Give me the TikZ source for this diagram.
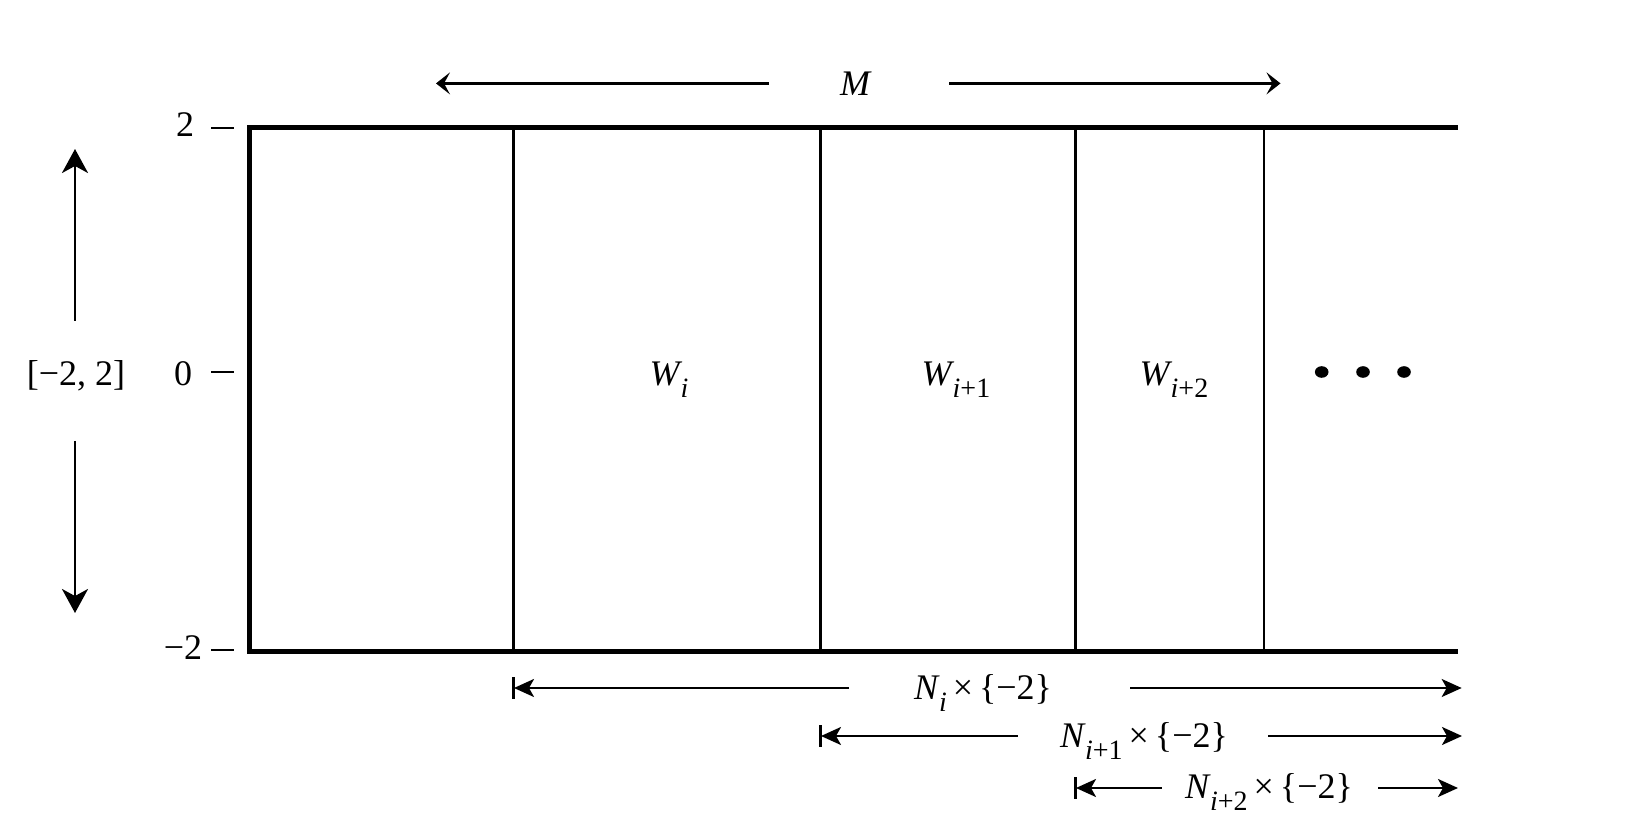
\documentclass[tikz,border=0pt]{standalone}
\usepackage{fontspec}
\setmainfont{Liberation Serif}
\usetikzlibrary{arrows.meta}
\newcommand{\sbs}[1]{\raisebox{-6pt}{\fontsize{14}{14}\selectfont #1}}
\newcommand{\Wl}[1]{{\itshape W}\kern0.5pt\sbs{#1}}
\newcommand{\Nl}[1]{{\itshape N}\kern0.5pt\sbs{#1}\kern3pt×\kern3pt\{−2\}}
\begin{document}
\begin{tikzpicture}[x=0.5pt,y=-0.5pt,font=\fontsize{18}{20}\selectfont,
  frame/.style={line width=2.5pt,line join=miter},
  divider/.style={line width=1.2pt},
  tickmark/.style={line width=1.1pt},
  lbl/.style={inner sep=0pt,anchor=base},
  dimarrow/.style={line width=1.2pt,-{Stealth[length=10pt,width=9pt,inset=2.5pt]}},
  bigarrow/.style={line width=1.2pt,-{Stealth[length=12pt,width=13pt,inset=3.5pt]}},
  marrow/.style={line width=1.2pt,-{Stealth[length=7pt,width=11pt,inset=3pt]}},
  barline/.style={line width=1.4pt}]
\useasboundingbox (0,0) rectangle (1635,818);
% frame
\draw[frame] (1457.7,128) -- (249.5,128) -- (249.5,651) -- (1457.7,651);
\foreach \x in {513.5,820.5,1075.5,1264} \draw[divider] (\x,128) -- (\x,651);
% ticks
\draw[tickmark] (211,128) -- (234,128);
\draw[tickmark] (211,372) -- (234,372);
\draw[tickmark] (211,650) -- (234,650);
\node[lbl] (t2) at (185,137) {2};
\node[lbl] (t0) at (183,386) {0};
\node[lbl] (tm2) at (183,659) {−2};
\node[lbl] (rng) at (76,386) {[−2, 2]};
% vertical arrows
\coordinate (vu0) at (75,321); \coordinate (vu1) at (75,149);
\coordinate (vd0) at (75,441); \coordinate (vd1) at (75,613);
\draw[bigarrow] (vu0) -- (vu1);
\draw[bigarrow] (vd0) -- (vd1);
% M
\node[lbl] (M) at (855,95.5) {\itshape M};
\coordinate (ml0) at (768.5,83.4); \coordinate (ml1) at (436,83.4);
\coordinate (mr0) at (949,83.4); \coordinate (mr1) at (1280.5,83.4);
\draw[marrow] (ml0) -- (ml1);
\draw[marrow] (mr0) -- (mr1);
% W labels
\node[lbl] (W1) at (669,386) {\Wl{\itshape i}};
\node[lbl] (W2) at (956,386) {\Wl{{\itshape i}+1}};
\node[lbl] (W3) at (1174,386) {\Wl{{\itshape i}+2}};
% dots
\foreach \x in {1321.7,1363,1404} \fill (\x,372) ellipse [x radius=3.4pt,y radius=2.9pt];
% N rows
\node[lbl] (N1) at (983,699) {\Nl{\itshape i}};
\coordinate (a1l0) at (849,688); \coordinate (a1l1) at (514,688);
\coordinate (a1r0) at (1130,688); \coordinate (a1r1) at (1461.7,688);
\draw[barline] (513.5,677) -- (513.5,699);
\draw[dimarrow] (a1l0) -- (a1l1);
\draw[dimarrow] (a1r0) -- (a1r1);
\node[lbl] (N2) at (1144,747) {\Nl{{\itshape i}+1}};
\coordinate (a2l0) at (1017.7,736); \coordinate (a2l1) at (821,736);
\coordinate (a2r0) at (1268,736); \coordinate (a2r1) at (1462,736);
\draw[barline] (820.5,725) -- (820.5,747);
\draw[dimarrow] (a2l0) -- (a2l1);
\draw[dimarrow] (a2r0) -- (a2r1);
\node[lbl] (N3) at (1269,798) {\Nl{{\itshape i}+2}};
\coordinate (a3l0) at (1161.7,788); \coordinate (a3l1) at (1076,788);
\coordinate (a3r0) at (1378,788); \coordinate (a3r1) at (1458,788);
\draw[barline] (1075.5,777) -- (1075.5,799);
\draw[dimarrow] (a3l0) -- (a3l1);
\draw[dimarrow] (a3r0) -- (a3r1);
\end{tikzpicture}
\end{document}
